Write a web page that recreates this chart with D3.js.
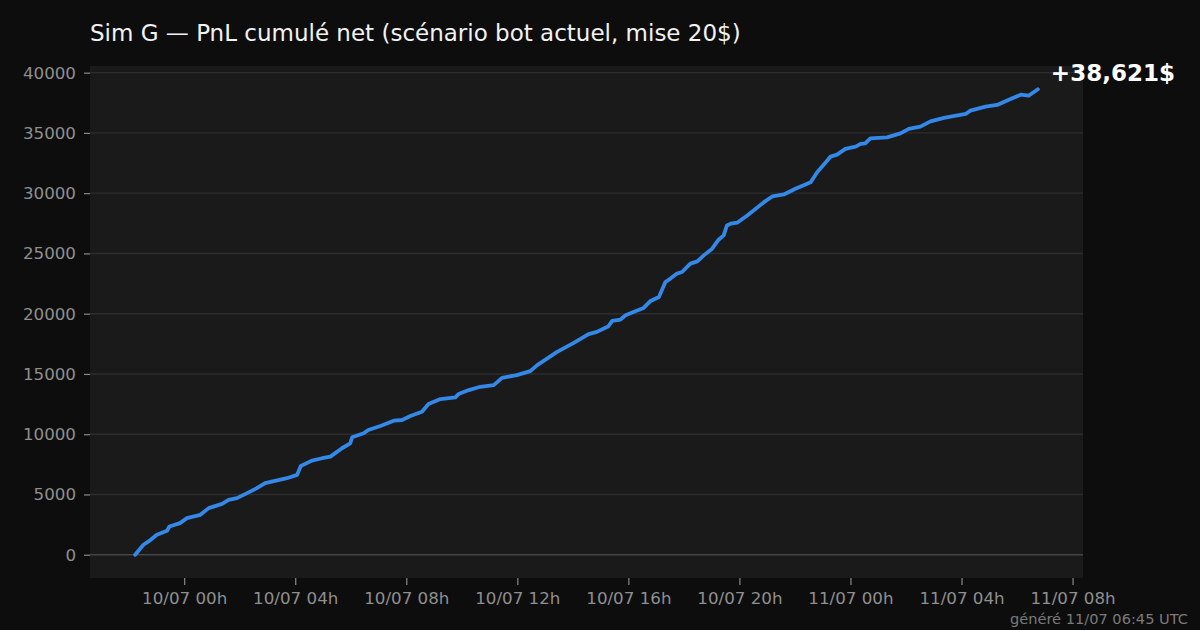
<!DOCTYPE html>
<html>
<head>
<meta charset="utf-8">
<script src="https://cdn.jsdelivr.net/npm/d3@7"></script>
<style>
  html, body { margin: 0; padding: 0; background: #0d0d0d; }
  svg { display: block; font-family: "DejaVu Sans", sans-serif; }
</style>
</head>
<body>
<div id="chart"></div>
<script>
// timestamps (UTC) and cumulative net PnL in $
const times = [
  "2025-07-09 22:14", "2025-07-09 22:32", "2025-07-09 22:43", "2025-07-09 23:01",
  "2025-07-09 23:23", "2025-07-09 23:28", "2025-07-09 23:51", "2025-07-10 00:06",
  "2025-07-10 00:35", "2025-07-10 00:53", "2025-07-10 01:22", "2025-07-10 01:36",
  "2025-07-10 01:54", "2025-07-10 02:16", "2025-07-10 02:37", "2025-07-10 02:55",
  "2025-07-10 03:42", "2025-07-10 04:04", "2025-07-10 04:12", "2025-07-10 04:36",
  "2025-07-10 04:58", "2025-07-10 05:16", "2025-07-10 05:41", "2025-07-10 05:59",
  "2025-07-10 06:03", "2025-07-10 06:28", "2025-07-10 06:38", "2025-07-10 07:04",
  "2025-07-10 07:33", "2025-07-10 07:51", "2025-07-10 08:09", "2025-07-10 08:34",
  "2025-07-10 08:48", "2025-07-10 09:14", "2025-07-10 09:46", "2025-07-10 09:53",
  "2025-07-10 10:15", "2025-07-10 10:40", "2025-07-10 11:09", "2025-07-10 11:27",
  "2025-07-10 11:59", "2025-07-10 12:28", "2025-07-10 12:43", "2025-07-10 13:26",
  "2025-07-10 14:02", "2025-07-10 14:34", "2025-07-10 14:52", "2025-07-10 15:17",
  "2025-07-10 15:25", "2025-07-10 15:43", "2025-07-10 15:54", "2025-07-10 16:15",
  "2025-07-10 16:33", "2025-07-10 16:48", "2025-07-10 17:06", "2025-07-10 17:20",
  "2025-07-10 17:31", "2025-07-10 17:45", "2025-07-10 17:56", "2025-07-10 18:14",
  "2025-07-10 18:29", "2025-07-10 18:43", "2025-07-10 19:01", "2025-07-10 19:15",
  "2025-07-10 19:26", "2025-07-10 19:33", "2025-07-10 19:41", "2025-07-10 19:55",
  "2025-07-10 20:17", "2025-07-10 20:53", "2025-07-10 21:11", "2025-07-10 21:36",
  "2025-07-10 22:01", "2025-07-10 22:34", "2025-07-10 22:48", "2025-07-10 23:10",
  "2025-07-10 23:17", "2025-07-10 23:31", "2025-07-10 23:49", "2025-07-11 00:11",
  "2025-07-11 00:22", "2025-07-11 00:32", "2025-07-11 00:43", "2025-07-11 01:19",
  "2025-07-11 01:48", "2025-07-11 02:06", "2025-07-11 02:31", "2025-07-11 02:53",
  "2025-07-11 03:22", "2025-07-11 04:09", "2025-07-11 04:19", "2025-07-11 04:52",
  "2025-07-11 05:17", "2025-07-11 05:46", "2025-07-11 06:08", "2025-07-11 06:25",
  "2025-07-11 06:45"
];
const pnl = [
  0, 828, 1101, 1656, 1987, 2343, 2625, 3039,
  3312, 3867, 4223, 4554, 4695, 5109, 5523, 5937,
  6351, 6624, 7369, 7808, 8007, 8139, 8835, 9249,
  9746, 10077, 10350, 10681, 11120, 11178, 11509, 11865,
  12503, 12917, 13058, 13331, 13662, 13935, 14076, 14680,
  14904, 15235, 15732, 16833, 17578, 18299, 18489, 18961,
  19400, 19516, 19872, 20203, 20476, 21056, 21387, 22629,
  22911, 23325, 23457, 24153, 24343, 24840, 25395, 26140,
  26496, 27324, 27465, 27548, 28152, 29253, 29725, 29891,
  30363, 30909, 31737, 32706, 33037, 33203, 33675, 33865,
  34089, 34138, 34552, 34635, 34966, 35331, 35521, 35960,
  36242, 36573, 36846, 37177, 37318, 37815, 38171, 38088,
  38621
];
const yTicks = [0, 5000, 10000, 15000, 20000, 25000, 30000, 35000, 40000];
const titleText = "Sim G — PnL cumulé net (scénario bot actuel, mise 20$)";
const footerText = "généré 11/07 06:45 UTC";

const width = 1200, height = 630;
const margin = { top: 66, right: 117, bottom: 52, left: 90 };

const parse = d3.utcParse("%Y-%m-%d %H:%M");
const data = times.map((t, i) => ({ t: parse(t), v: pnl[i] }));

const svg = d3.select("#chart").append("svg")
  .attr("width", width)
  .attr("height", height)
  .attr("viewBox", `0 0 ${width} ${height}`);

svg.append("rect").attr("width", width).attr("height", height).attr("fill", "#0d0d0d");

// matplotlib-ish 5% padding
const tExt = d3.extent(data, d => d.t);
const tPad = (tExt[1] - tExt[0]) * 0.05;
const vExt = d3.extent(data, d => d.v);
const vPad = (vExt[1] - vExt[0]) * 0.05;

const x = d3.scaleUtc()
  .domain([new Date(+tExt[0] - tPad), new Date(+tExt[1] + tPad)])
  .range([margin.left, width - margin.right]);
const y = d3.scaleLinear()
  .domain([vExt[0] - vPad, vExt[1] + vPad])
  .range([height - margin.bottom, margin.top]);

svg.append("rect")
  .attr("x", margin.left)
  .attr("y", margin.top)
  .attr("width", width - margin.left - margin.right)
  .attr("height", height - margin.top - margin.bottom)
  .attr("fill", "#1a1a1a");

// grid
svg.append("g").selectAll("line")
  .data(yTicks)
  .join("line")
  .attr("x1", margin.left)
  .attr("x2", width - margin.right)
  .attr("y1", d => y(d))
  .attr("y2", d => y(d))
  .attr("stroke", d => d === 0 ? "#444" : "#2d2d2d")
  .attr("stroke-width", d => d === 0 ? 1.6 : 1.4);

// y axis
const yAxis = svg.append("g")
  .attr("transform", `translate(${margin.left},0)`)
  .call(d3.axisLeft(y).tickValues(yTicks).tickFormat(d3.format("d")).tickSize(6).tickPadding(8));
yAxis.select(".domain").remove();
yAxis.selectAll("line").attr("stroke", "#8a8a8a").attr("stroke-width", 1.2);
yAxis.selectAll("text").attr("fill", "#8f8f8f").style("font-size", "16.7px")
  .style("font-family", "DejaVu Sans, sans-serif");

// x axis
const xTicks = d3.utcHour.every(4).range(d3.utcDay.floor(x.domain()[0]), x.domain()[1])
  .filter(d => d >= x.domain()[0]);
const xAxis = svg.append("g")
  .attr("transform", `translate(0,${height - margin.bottom})`)
  .call(d3.axisBottom(x).tickValues(xTicks).tickFormat(d3.utcFormat("%d/%m %Hh")).tickSize(7).tickPadding(7));
xAxis.select(".domain").remove();
xAxis.selectAll("line").attr("stroke", "#8a8a8a").attr("stroke-width", 1.2);
xAxis.selectAll("text").attr("fill", "#8f8f8f").style("font-size", "16.7px")
  .style("font-family", "DejaVu Sans, sans-serif");

// line
const line = d3.line().x(d => x(d.t)).y(d => y(d.v));
svg.append("path")
  .datum(data)
  .attr("fill", "none")
  .attr("stroke", "#3388e8")
  .attr("stroke-width", 3.8)
  .attr("stroke-linejoin", "round")
  .attr("stroke-linecap", "round")
  .attr("d", line);

// final value label
const last = data[data.length - 1];
svg.append("text")
  .attr("x", x(last.t) + 13)
  .attr("y", y(last.v) - 8)
  .attr("fill", "#ffffff")
  .style("font-size", "23px")
  .style("font-weight", "bold")
  .text("+" + d3.format(",")(last.v) + "$");

// title
svg.append("text")
  .attr("x", margin.left)
  .attr("y", 41)
  .attr("fill", "#f2f2f2")
  .style("font-size", "23px")
  .text(titleText);

// footer
svg.append("text")
  .attr("x", 1188)
  .attr("y", 624)
  .attr("text-anchor", "end")
  .attr("fill", "#7a7a7a")
  .style("font-size", "14.6px")
  .text(footerText);
</script>
</body>
</html>
